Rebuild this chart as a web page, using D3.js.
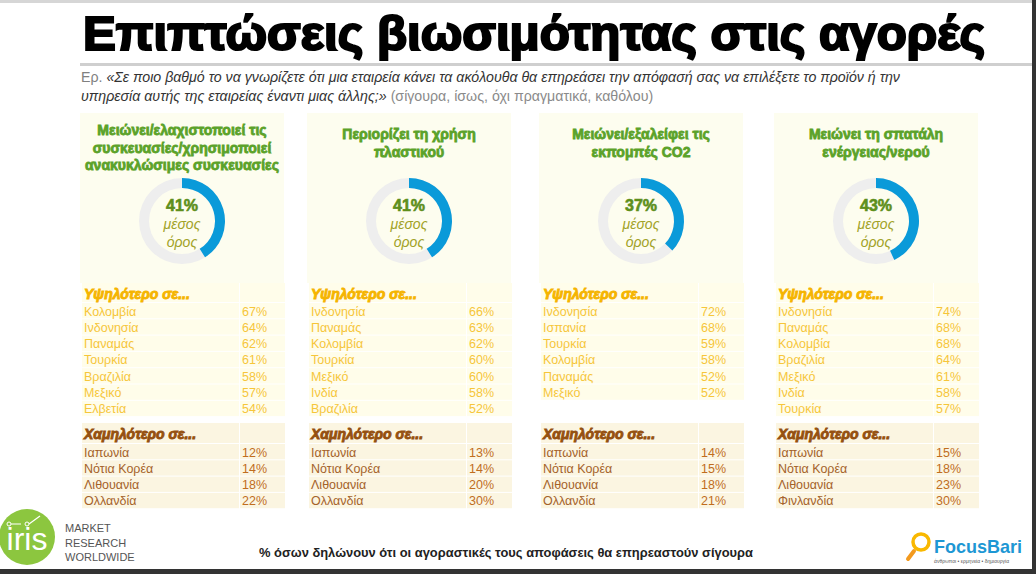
<!DOCTYPE html>
<html>
<head>
<meta charset="utf-8">
<script src="https://cdn.jsdelivr.net/npm/d3@7"></script>
<style>
  html, body { margin: 0; padding: 0; background: #fff; }
  svg { display: block; }
</style>
</head>
<body>
<div id="chart"></div>
<script>
(function(){
    "use strict";
    //====================================
    //data
    var chartTitle = "Επιπτώσεις βιωσιμότητας στις αγορές";
    var questionLabel = "Ερ. ";
    var questionLine1 = "«Σε ποιο βαθμό το να γνωρίζετε ότι μια εταιρεία κάνει τα ακόλουθα θα επηρεάσει την απόφασή σας να επιλέξετε το προϊόν ή την";
    var questionLine2 = "υπηρεσία αυτής της εταιρείας έναντι μιας άλλης;»";
    var answerScale = " (σίγουρα, ίσως, όχι πραγματικά, καθόλου)";
    var footNote = "% όσων δηλώνουν ότι οι αγοραστικές τους αποφάσεις θα επηρεαστούν σίγουρα";

    var panelTitles = [
        ["Μειώνει/ελαχιστοποιεί τις", "συσκευασίες/χρησιμοποιεί", "ανακυκλώσιμες συσκευασίες"],
        ["Περιορίζει τη χρήση", "πλαστικού"],
        ["Μειώνει/εξαλείφει τις", "εκπομπές CO2"],
        ["Μειώνει τη σπατάλη", "ενέργειας/νερού"]
    ];
    var averages = [41, 41, 37, 43];
    var averageLabel = ["μέσος", "όρος"];

    var highHeader = "Υψηλότερο σε...";
    var lowHeader = "Χαμηλότερο σε...";

    var highCountries = [
        ["Κολομβία", "Ινδονησία", "Παναμάς", "Τουρκία", "Βραζιλία", "Μεξικό", "Ελβετία"],
        ["Ινδονησία", "Παναμάς", "Κολομβία", "Τουρκία", "Μεξικό", "Ινδία", "Βραζιλία"],
        ["Ινδονησία", "Ισπανία", "Τουρκία", "Κολομβία", "Παναμάς", "Μεξικό"],
        ["Ινδονησία", "Παναμάς", "Κολομβία", "Βραζιλία", "Μεξικό", "Ινδία", "Τουρκία"]
    ];
    var highValues = [
        [67, 64, 62, 61, 58, 57, 54],
        [66, 63, 62, 60, 60, 58, 52],
        [72, 68, 59, 58, 52, 52],
        [74, 68, 68, 64, 61, 58, 57]
    ];
    var lowCountries = [
        ["Ιαπωνία", "Νότια Κορέα", "Λιθουανία", "Ολλανδία"],
        ["Ιαπωνία", "Νότια Κορέα", "Λιθουανία", "Ολλανδία"],
        ["Ιαπωνία", "Νότια Κορέα", "Λιθουανία", "Ολλανδία"],
        ["Ιαπωνία", "Νότια Κορέα", "Λιθουανία", "Φινλανδία"]
    ];
    var lowValues = [
        [12, 14, 18, 22],
        [13, 14, 20, 30],
        [14, 15, 18, 21],
        [15, 18, 23, 30]
    ];

    //====================================
    //layout
    var width = 1036, height = 574;
    var panelLeft = [80, 307, 539, 774];
    var panelWidth = 204;
    var valueColOffset = 158;
    var font = "'Liberation Sans', Arial, sans-serif";

    var colors = {
        panelBg: "#fdfdef",
        title: "#5ba229",
        avg: "#5e8f1c",
        avgLabel: "#a1a227",
        ringBg: "#eeeeee",
        ring: "#0a9ad9",
        highBg: "#fffdea",
        highHead: "#f5b400",
        highText: "#f6c63a",
        lowBg: "#fbf5e1",
        lowHead: "#95500f",
        lowName: "#a4622a",
        lowValue: "#c06d1e"
    };

    var svg = d3.select("#chart").append("svg")
        .attr("width", width)
        .attr("height", height)
        .style("font-family", font);

    //frame
    svg.append("rect").attr("x", 0).attr("y", 0).attr("width", width).attr("height", 3).attr("fill", "#d6d6d6");
    svg.append("rect").attr("x", 1032).attr("y", 0).attr("width", 4).attr("height", height).attr("fill", "#333");
    svg.append("rect").attr("x", 0).attr("y", 569).attr("width", width).attr("height", 5).attr("fill", "#333");

    //title
    svg.append("text")
        .attr("x", 83).attr("y", 50)
        .attr("textLength", 902)
        .attr("lengthAdjust", "spacingAndGlyphs")
        .style("font-size", "48px")
        .style("font-weight", "bold")
        .style("fill", "#000")
        .style("stroke", "#000")
        .style("stroke-width", 2.2)
        .text(chartTitle);
    svg.append("rect").attr("x", 80).attr("y", 63).attr("width", 952).attr("height", 3).attr("fill", "#cfcfcf");

    //question
    var q1 = svg.append("text").attr("x", 81).attr("y", 82).style("font-size", "14.2px");
    q1.append("tspan").style("fill", "#808080").text(questionLabel);
    q1.append("tspan").style("fill", "#333").style("font-style", "italic").text(questionLine1);
    var q2 = svg.append("text").attr("x", 81).attr("y", 101).style("font-size", "14.2px");
    q2.append("tspan").style("fill", "#333").style("font-style", "italic").text(questionLine2);
    q2.append("tspan").style("fill", "#8a8a8a").text(answerScale);

    //donut helpers
    var angle = d3.scaleLinear().domain([0, 100]).range([0, 2 * Math.PI]);
    var arc = d3.arc().innerRadius(33).outerRadius(43);

    var rowH = 16.3;

    panelLeft.forEach(function(left, i){
        var g = svg.append("g").attr("transform", "translate(" + left + ",0)");
        var cx = panelWidth / 2;

        //panel background
        g.append("rect").attr("x", 0).attr("y", 113).attr("width", panelWidth).attr("height", 170)
            .attr("fill", colors.panelBg);

        //panel title
        var lines = panelTitles[i];
        var firstY = lines.length === 3 ? 135 : 139;
        lines.forEach(function(line, k){
            g.append("text")
                .attr("x", cx).attr("y", firstY + k * 17.5)
                .attr("text-anchor", "middle")
                .style("font-size", "14px")
                .style("font-weight", "bold")
                .style("fill", colors.title)
                .style("stroke", colors.title)
                .style("stroke-width", 0.8)
                .text(line);
        });

        //donut
        var dg = g.append("g").attr("transform", "translate(" + cx + ",221)");
        dg.append("path")
            .attr("d", arc({startAngle: 0, endAngle: 2 * Math.PI}))
            .attr("fill", colors.ringBg);
        dg.append("path")
            .attr("d", arc({startAngle: angle(0), endAngle: angle(averages[i])}))
            .attr("fill", colors.ring);
        dg.append("text")
            .attr("y", -10).attr("text-anchor", "middle")
            .style("font-size", "16px").style("font-weight", "bold")
            .style("fill", colors.avg).style("stroke", colors.avg).style("stroke-width", 0.6)
            .text(averages[i] + "%");
        averageLabel.forEach(function(w, k){
            dg.append("text")
                .attr("y", 8 + k * 18).attr("text-anchor", "middle")
                .style("font-size", "14px").style("font-style", "italic")
                .style("fill", colors.avgLabel)
                .text(w);
        });

        //tables
        function drawTable(top, headH, header, names, values, bg, headColor, nameColor, valueColor){
            var tg = g.append("g");
            var rows = [{name: header, value: null, head: true}].concat(names.map(function(n, k){
                return {name: n, value: values[k], head: false};
            }));
            var yOf = function(k){ return k === 0 ? top : top + headH + (k - 1) * rowH; };
            var hOf = function(k){ return k === 0 ? headH : rowH; };

            var rg = tg.selectAll("g.row").data(rows).enter().append("g")
                .attr("transform", function(d, k){ return "translate(2," + yOf(k) + ")"; });
            rg.append("rect")
                .attr("x", 0).attr("width", valueColOffset - 1)
                .attr("height", function(d, k){ return hOf(k) - 1; })
                .attr("fill", bg);
            rg.append("rect")
                .attr("x", valueColOffset).attr("width", panelWidth - valueColOffset - 1)
                .attr("height", function(d, k){ return hOf(k) - 1; })
                .attr("fill", bg);
            rg.append("text")
                .attr("x", 2)
                .attr("y", function(d, k){ return d.head ? 16 : 12.5; })
                .style("font-size", function(d){ return d.head ? "14px" : "12.5px"; })
                .style("font-weight", function(d){ return d.head ? "bold" : "normal"; })
                .style("font-style", function(d){ return d.head ? "italic" : "normal"; })
                .style("fill", function(d){ return d.head ? headColor : nameColor; })
                .style("stroke", function(d){ return d.head ? headColor : "none"; })
                .style("stroke-width", 0.9)
                .text(function(d){ return d.name; });
            rg.filter(function(d){ return !d.head; }).append("text")
                .attr("x", valueColOffset + 2).attr("y", 12.5)
                .style("font-size", "12.5px")
                .style("fill", valueColor)
                .text(function(d){ return d.value + "%"; });
        }

        drawTable(283, 20, highHeader, highCountries[i], highValues[i],
            colors.highBg, colors.highHead, colors.highText, colors.highText);
        drawTable(423, 21, lowHeader, lowCountries[i], lowValues[i],
            colors.lowBg, colors.lowHead, colors.lowName, colors.lowValue);
    });

    //footnote
    svg.append("text")
        .attr("x", 506).attr("y", 557)
        .attr("text-anchor", "middle")
        .style("font-size", "12.9px").style("font-weight", "bold")
        .style("fill", "#222")
        .text(footNote);

    //iris logo
    var iris = svg.append("g").attr("transform", "translate(27,537)");
    iris.append("circle").attr("r", 28).attr("fill", "#8cc63f");
    iris.append("text").attr("y", 13).attr("text-anchor", "middle")
        .style("font-size", "32px").style("fill", "#fff").style("font-weight", "300")
        .text("iris");
    iris.append("path").attr("d", "M-16,-13 L-6,-13 M2,-13 L13,-21")
        .attr("stroke", "#fff").attr("stroke-width", 1.2).attr("fill", "none");
    iris.append("circle").attr("cx", -18).attr("cy", -13).attr("r", 2).attr("fill", "none").attr("stroke", "#fff");
    iris.append("circle").attr("cx", 0).attr("cy", -13).attr("r", 2).attr("fill", "none").attr("stroke", "#fff");
    ["MARKET", "RESEARCH", "WORLDWIDE"].forEach(function(w, k){
        svg.append("text").attr("x", 65).attr("y", 532 + k * 14.5)
            .style("font-size", "11px").style("fill", "#555")
            .text(w);
    });

    //FocusBari logo
    var fb = svg.append("g");
    fb.append("line").attr("x1", 914).attr("y1", 551).attr("x2", 908).attr("y2", 559)
        .attr("stroke", "#f39a1e").attr("stroke-width", 4).attr("stroke-linecap", "round");
    fb.append("circle").attr("cx", 921).attr("cy", 542).attr("r", 8)
        .attr("fill", "#fff").attr("stroke", "#f9b800").attr("stroke-width", 3.5);
    fb.append("text").attr("x", 934).attr("y", 553)
        .style("font-size", "19px").style("font-weight", "bold").style("fill", "#1d97d4")
        .attr("textLength", 88).attr("lengthAdjust", "spacingAndGlyphs")
        .text("FocusBari");
    fb.append("text").attr("x", 934).attr("y", 563)
        .style("font-size", "5px").style("fill", "#555")
        .text("άνθρωποι • ερμηνεία • δημιουργία");
})();
</script>
</body>
</html>
